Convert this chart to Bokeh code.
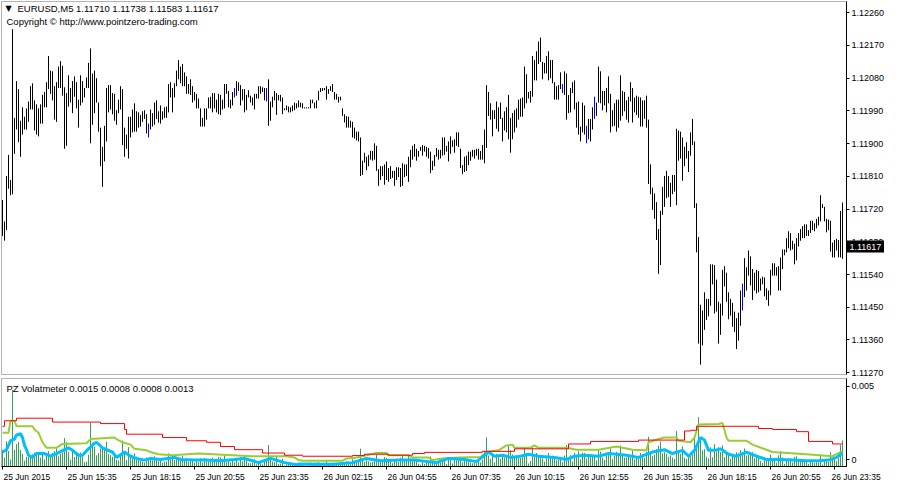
from bokeh.plotting import figure
from bokeh.layouts import column
from bokeh.models import (Range1d, FixedTicker, Label, ColumnDataSource, PrintfTickFormatter,
                          LinearAxis, BoxAnnotation)
from bokeh.embed import file_html
from bokeh.resources import INLINE

# ---------------- data (EURUSD M5, 25 Jun 2015 12:55 .. 26 Jun 23:55) ----------------
high = [
1.11745,1.11686,1.11811,1.11869,1.11800,1.12215,1.11971,1.12072,1.12050,1.11963,
1.12000,1.11974,1.11997,1.12016,1.12058,1.12066,1.12019,1.12008,1.11997,1.12008,
1.12034,1.12042,1.12069,1.12141,1.12101,1.12099,1.12058,1.12069,1.12112,1.12127,
1.12114,1.12055,1.12039,1.12088,1.12053,1.12072,1.12085,1.12069,1.12021,1.12088,
1.12072,1.12053,1.12082,1.12122,1.12162,1.12093,1.12101,1.12080,1.12013,1.11944,
1.11891,1.11949,1.12053,1.12061,1.12061,1.12039,1.12037,1.11992,1.12021,1.12058,
1.12050,1.11944,1.11925,1.11974,1.11974,1.11994,1.12011,1.11989,1.11986,1.11979,
1.11989,1.11992,1.11981,1.11955,1.11994,1.11984,1.12013,1.12019,1.11989,1.12005,
1.11989,1.12000,1.12002,1.12064,1.12069,1.12053,1.12066,1.12101,1.12130,1.12112,
1.12119,1.12096,1.12085,1.12064,1.12077,1.12058,1.12042,1.12037,1.12024,1.11997,
1.11971,1.11997,1.11997,1.12027,1.12029,1.12039,1.12039,1.12021,1.12037,1.12034,
1.12021,1.12064,1.12064,1.12045,1.12021,1.12042,1.12053,1.12072,1.12069,1.12061,
1.12050,1.12050,1.12034,1.12047,1.12032,1.12027,1.12037,1.12037,1.12058,1.12058,
1.12055,1.12053,1.12053,1.12077,1.12016,1.12029,1.12045,1.12039,1.12034,1.12034,
1.12027,1.11997,1.12005,1.12002,1.12000,1.12005,1.12013,1.12011,1.12019,1.12013,
1.12011,1.12000,1.12000,1.12000,1.12021,1.12021,1.12013,1.12019,1.12045,1.12053,
1.12053,1.12053,1.12058,1.12050,1.12058,1.12064,1.12042,1.12037,1.12029,1.12029,
1.11997,1.11981,1.11976,1.11974,1.11963,1.11960,1.11944,1.11933,1.11933,1.11917,
1.11853,1.11875,1.11864,1.11869,1.11880,1.11880,1.11901,1.11894,1.11830,1.11838,
1.11838,1.11843,1.11851,1.11833,1.11838,1.11825,1.11825,1.11835,1.11835,1.11833,
1.11846,1.11843,1.11843,1.11864,1.11883,1.11894,1.11899,1.11886,1.11880,1.11891,
1.11896,1.11894,1.11891,1.11888,1.11878,1.11853,1.11869,1.11888,1.11883,1.11883,
1.11917,1.11917,1.11894,1.11906,1.11920,1.11909,1.11912,1.11931,1.11931,1.11886,
1.11841,1.11864,1.11867,1.11878,1.11878,1.11883,1.11883,1.11886,1.11886,1.11880,
1.11896,1.11939,1.12061,1.12042,1.12011,1.11992,1.11992,1.12016,1.12000,1.12013,
1.11971,1.11989,1.12000,1.12034,1.11971,1.11984,1.11992,1.11997,1.12021,1.12024,
1.12027,1.12112,1.12091,1.12042,1.12045,1.12141,1.12130,1.12154,1.12181,1.12192,
1.12125,1.12122,1.12141,1.12154,1.12130,1.12130,1.12069,1.12058,1.12061,1.12096,
1.12064,1.12099,1.12093,1.12034,1.12053,1.12069,1.12074,1.12013,1.12016,1.11947,
1.12013,1.12005,1.11949,1.11968,1.11968,1.12000,1.12029,1.12013,1.12112,1.12099,
1.12045,1.12045,1.12053,1.12085,1.12037,1.11992,1.12011,1.12021,1.12021,1.12088,
1.12045,1.12042,1.12019,1.12029,1.12069,1.12053,1.12027,1.12032,1.12029,1.12027,
1.12019,1.12019,1.12032,1.11966,1.11843,1.11779,1.11763,1.11739,1.11665,1.11715,
1.11781,1.11811,1.11825,1.11811,1.11792,1.11814,1.11814,1.11941,1.11936,1.11933,
1.11917,1.11891,1.11904,1.11880,1.11931,1.11968,1.11906,1.11736,1.11643,1.11457,
1.11441,1.11491,1.11473,1.11473,1.11568,1.11568,1.11566,1.11526,1.11465,1.11460,
1.11553,1.11563,1.11545,1.11491,1.11473,1.11462,1.11438,1.11420,1.11435,1.11496,
1.11515,1.11585,1.11560,1.11606,1.11590,1.11555,1.11545,1.11553,1.11550,1.11529,
1.11534,1.11532,1.11502,1.11496,1.11553,1.11571,1.11571,1.11560,1.11563,1.11587,
1.11609,1.11609,1.11640,1.11659,1.11654,1.11633,1.11625,1.11640,1.11654,1.11665,
1.11673,1.11678,1.11678,1.11662,1.11688,1.11688,1.11681,1.11693,1.11699,1.11758,
1.11734,1.11726,1.11693,1.11691,1.11688,1.11628,1.11635,1.11638,1.11635,1.11715,
1.11738]

low = [
1.11646,1.11633,1.11662,1.11776,1.11758,1.11761,1.11872,1.11939,1.11904,1.11864,
1.11925,1.11939,1.11939,1.11960,1.11994,1.11994,1.11936,1.11925,1.11920,1.11955,
1.11955,1.12000,1.12000,1.12050,1.12037,1.12019,1.11966,1.11960,1.12053,1.12053,
1.12032,1.11886,1.11894,1.12002,1.12013,1.11984,1.12029,1.11997,1.11944,1.12005,
1.12013,1.12027,1.12053,1.12053,1.11901,1.11952,1.11984,1.12013,1.11933,1.11838,
1.11781,1.11851,1.11906,1.11986,1.11994,1.11981,1.11963,1.11952,1.11984,1.11994,
1.11896,1.11864,1.11886,1.11859,1.11917,1.11931,1.11933,1.11933,1.11944,1.11947,
1.11960,1.11968,1.11928,1.11917,1.11939,1.11947,1.11952,1.11968,1.11958,1.11955,
1.11966,1.11971,1.11971,1.11986,1.12027,1.11986,1.12027,1.12058,1.12077,1.12066,
1.12058,1.12058,1.12037,1.12037,1.12034,1.12013,1.12019,1.11997,1.11997,1.11947,
1.11947,1.11947,1.11966,1.11997,1.11997,1.11986,1.11997,1.11986,1.11981,1.11979,
1.11994,1.11997,1.12037,1.12000,1.11997,1.12005,1.12027,1.12032,1.12045,1.12005,
1.12019,1.11986,1.11992,1.12027,1.12013,1.12005,1.11994,1.12024,1.12024,1.12037,
1.12042,1.12019,1.12016,1.11949,1.11963,1.12000,1.12019,1.11979,1.12019,1.12016,
1.11981,1.11992,1.11992,1.11986,1.11986,1.11989,1.11992,1.11997,1.12000,1.12000,
1.11997,1.11997,1.11997,1.11997,1.11997,1.12011,1.11997,1.11997,1.12019,1.12042,
1.12045,1.12047,1.12021,1.12037,1.12045,1.12042,1.12021,1.12021,1.12013,1.12019,
1.11976,1.11958,1.11944,1.11944,1.11944,1.11917,1.11914,1.11909,1.11906,1.11811,
1.11814,1.11848,1.11827,1.11838,1.11856,1.11853,1.11856,1.11825,1.11784,1.11800,
1.11811,1.11787,1.11800,1.11795,1.11803,1.11806,1.11784,1.11800,1.11808,1.11781,
1.11784,1.11808,1.11811,1.11795,1.11835,1.11856,1.11864,1.11853,1.11864,1.11880,
1.11867,1.11878,1.11864,1.11859,1.11819,1.11827,1.11838,1.11864,1.11856,1.11859,
1.11867,1.11869,1.11878,1.11851,1.11872,1.11891,1.11875,1.11894,1.11891,1.11833,
1.11816,1.11822,1.11825,1.11841,1.11853,1.11864,1.11859,1.11867,1.11856,1.11856,
1.11856,1.11846,1.11888,1.11976,1.11966,1.11920,1.11968,1.11941,1.11933,1.11968,
1.11906,1.11936,1.11931,1.11912,1.11875,1.11912,1.11931,1.11944,1.11966,1.11974,
1.11974,1.11997,1.12011,1.12024,1.12013,1.12029,1.12074,1.12074,1.12119,1.12125,
1.12077,1.12093,1.12093,1.12074,1.12080,1.12066,1.12021,1.12021,1.12021,1.12050,
1.12039,1.12034,1.11966,1.11984,1.11986,1.12039,1.11994,1.11944,1.11925,1.11906,
1.11931,1.11925,1.11901,1.11912,1.11906,1.11939,1.11968,1.11976,1.12013,1.12011,
1.11992,1.12005,1.11986,1.12011,1.11931,1.11947,1.11949,1.11933,1.11944,1.11963,
1.11976,1.11989,1.11966,1.11958,1.12016,1.11958,1.11986,1.11979,1.11971,1.11947,
1.11947,1.11968,1.11944,1.11789,1.11761,1.11718,1.11693,1.11635,1.11542,1.11566,
1.11704,1.11726,1.11750,1.11753,1.11726,1.11761,1.11768,1.11731,1.11853,1.11859,
1.11798,1.11838,1.11859,1.11822,1.11867,1.11896,1.11723,1.11601,1.11350,1.11292,
1.11345,1.11388,1.11415,1.11425,1.11454,1.11513,1.11433,1.11438,1.11350,1.11374,
1.11427,1.11507,1.11465,1.11417,1.11427,1.11396,1.11382,1.11335,1.11358,1.11399,
1.11441,1.11478,1.11496,1.11537,1.11510,1.11470,1.11496,1.11488,1.11491,1.11496,
1.11513,1.11480,1.11470,1.11454,1.11483,1.11537,1.11537,1.11537,1.11496,1.11496,
1.11555,1.11593,1.11601,1.11612,1.11606,1.11609,1.11568,1.11579,1.11617,1.11633,
1.11640,1.11640,1.11646,1.11646,1.11654,1.11662,1.11659,1.11667,1.11675,1.11686,
1.11723,1.11686,1.11656,1.11662,1.11603,1.11587,1.11587,1.11606,1.11587,1.11587,
1.11583]

blue_bars = [73, 116, 132, 280, 292, 296, 370]

price_ticks = [1.11270, 1.11360, 1.11450, 1.11540, 1.11630, 1.11720,
               1.11810, 1.11900, 1.11990, 1.12080, 1.12170, 1.12260]

time_tick_bars = [0, 32, 64, 96, 128, 160, 192, 224, 256, 288, 320, 352, 384, 416]
time_labels = ["25 Jun 2015", "25 Jun 15:35", "25 Jun 18:15", "25 Jun 20:55",
               "25 Jun 23:35", "26 Jun 02:15", "26 Jun 04:55", "26 Jun 07:35",
               "26 Jun 10:15", "26 Jun 12:55", "26 Jun 15:35", "26 Jun 18:15",
               "26 Jun 20:55", "26 Jun 23:35"]

# indicator lines (values in thousandths), sampled at bar index
blue_x = [0,2,4,6,7,9,10,11,12,13,15,17,21,24,27,31,33,35,38,40,43,46,47,50,53,55,57,60,61,64,
          67,71,74,79,86,89,96,102,109,116,121,128,134,141,147,148,165,175,182,189,198,206,217,
          223,231,237,240,243,246,250,254,259,263,268,276,282,286,291,298,303,312,318,325,331,
          335,340,343,346,349,351,353,356,359,363,367,372,377,382,388,395,402,408,413,417,420]
blue_v = [0.86,1.00,1.53,1.63,1.88,1.95,1.72,1.25,1.00,0.67,0.54,0.77,0.77,0.61,0.77,1.00,1.11,
          0.96,0.67,0.67,1.05,1.38,1.44,1.11,0.96,0.86,0.54,0.77,0.86,0.61,0.48,0.38,0.48,0.42,
          0.54,0.42,0.38,0.38,0.34,0.42,0.48,0.23,0.48,0.23,0.10,0.15,0.13,0.23,0.48,0.34,0.38,
          0.38,0.23,0.48,0.42,0.29,0.57,0.86,0.61,0.67,0.54,0.61,0.73,0.61,0.54,0.42,0.61,0.67,
          0.61,0.77,0.67,0.54,0.86,1.00,0.77,0.96,0.61,0.96,1.72,1.57,0.96,0.96,1.05,0.73,0.61,
          0.86,0.61,0.42,0.42,0.38,0.34,0.34,0.38,0.54,0.80]

green_x = [0,3,4,6,7,15,16,18,20,22,27,30,42,44,56,57,60,64,66,72,74,78,85,98,115,125,142,146,
           148,150,170,172,177,187,192,193,203,205,213,215,220,228,239,242,248,252,255,256,264,
           266,268,282,287,294,298,307,315,322,323,328,331,337,338,344,346,348,358,360,362,363,
           372,375,385,402,415,418,420]
green_v = [2.01,2.01,2.72,2.72,2.39,2.39,2.20,2.01,1.44,1.11,1.11,1.34,1.38,1.63,1.72,1.63,1.44,
           1.30,1.05,0.96,0.86,0.73,0.67,0.77,0.67,0.61,0.61,0.54,0.38,0.34,0.34,0.48,0.54,0.80,
           0.80,0.67,0.67,0.54,0.54,0.38,0.48,0.54,0.57,0.86,0.96,1.25,1.30,1.11,1.11,1.25,1.11,
           1.11,1.00,1.00,1.00,1.19,1.00,0.96,1.44,1.63,1.72,1.72,1.53,1.44,1.72,2.49,2.53,2.59,
           1.72,1.53,1.53,1.30,0.86,0.73,0.61,0.80,0.86]

red_x = [0,1,7,25,49,61,62,80,92,102,109,116,130,141,150,175,181,193,205,211,240,256,283,294,
         318,341,344,347,378,385,397,403,415,420]
red_v = [2.39,2.72,2.87,2.64,2.55,2.20,1.92,1.72,1.53,1.44,1.19,1.00,0.80,0.67,0.61,0.65,0.73,
         0.67,0.77,0.84,0.90,1.05,1.34,1.49,1.57,2.11,2.15,2.39,2.26,2.20,2.07,1.49,1.34,1.34]

ind_tick_values = [0.0004, 0.00477]
ind_tick_labels = ["0", "0.005"]

header_text = "EURUSD,M5  1.11710 1.11738 1.11583 1.11617"
copyright_text = "Copyright \u00a9 http://www.pointzero-trading.com"
indicator_text = "PZ Volatmeter 0.0015 0.0008 0.0008 0.0013"
last_close = 1.11617

# ---------------- layout constants ----------------
FONT = "Liberation Sans"
W = 884
X0, X1 = -1.0, 441.0          # 2 px per bar over the full 884 px canvas
EDGE_L, EDGE_R = -0.5, 422.0  # panel borders (bar units); price scale sits at EDGE_R
PTOP, PBOT = 1.12291, 1.11265  # price panel border values
PX = (PTOP - PBOT) / 373.0
HP = 377
HQ = 484 - HP
ITOP = 0.00523
IX = ITOP / 88.0


def style(fig):
    fig.background_fill_color = "white"
    fig.border_fill_color = "white"
    fig.grid.visible = False
    fig.outline_line_color = None
    fig.min_border_left = 0
    fig.min_border_right = 0
    fig.min_border_top = 0
    fig.min_border_bottom = 0


n = len(high)
idx = list(range(n))
colors = ["#0000FF" if i in blue_bars else "#000000" for i in idx]
bar_range = [h - l for h, l in zip(high, low)]

xr = Range1d(X0, X1)

# ---------------- price panel ----------------
p = figure(frame_width=W, frame_height=HP, x_range=xr,
           y_range=Range1d(PBOT - 3 * PX, PTOP + 1 * PX),
           output_backend="svg", toolbar_location=None,
           x_axis_location=None, y_axis_location=None)
style(p)

src = ColumnDataSource(dict(x=idx, high=high, low=low, color=colors))
p.segment(x0="x", y0="low", x1="x", y1="high", line_color="color", line_width=1, source=src)

p.add_layout(BoxAnnotation(left=EDGE_L, right=EDGE_R, bottom=PBOT, top=PTOP,
                           fill_color=None, line_color="black", line_width=1))

ya = LinearAxis(fixed_location=EDGE_R, bounds=(PBOT, PTOP),
                ticker=FixedTicker(ticks=price_ticks),
                formatter=PrintfTickFormatter(format="%.5f"))
ya.major_tick_out = 3
ya.major_tick_in = 0
ya.minor_tick_out = 0
ya.minor_tick_in = 0
ya.major_label_standoff = 2
ya.major_label_text_font = FONT
ya.major_label_text_font_size = "9px"
ya.major_label_text_color = "black"
ya.axis_line_color = "black"
ya.major_tick_line_color = "black"
p.add_layout(ya, "right")

box_axis = LinearAxis(fixed_location=EDGE_R, ticker=FixedTicker(ticks=[last_close]),
                      major_label_overrides={last_close: "1.11617"})
box_axis.axis_line_color = None
box_axis.major_tick_out = 38
box_axis.major_tick_in = 0
box_axis.major_tick_line_width = 12
box_axis.major_tick_line_color = "black"
box_axis.minor_tick_out = 0
box_axis.minor_tick_in = 0
box_axis.minor_tick_line_color = None
box_axis.major_label_standoff = -35
box_axis.major_label_text_font = FONT
box_axis.major_label_text_font_size = "9px"
box_axis.major_label_text_color = "white"
p.add_layout(box_axis, "right")

p.add_layout(Label(x=1.5, y=PTOP + PX - 7.5 * PX, text="\u25bc", text_font="DejaVu Sans",
                   text_font_size="8px", text_baseline="middle", text_align="left",
                   text_color="black"))
p.add_layout(Label(x=7.5, y=PTOP + PX - 7.5 * PX, text=header_text, text_font=FONT,
                   text_font_size="9.5px", text_baseline="middle", text_align="left",
                   text_color="black"))
p.add_layout(Label(x=2.0, y=PTOP + PX - 21 * PX, text=copyright_text, text_font=FONT,
                   text_font_size="9.5px", text_baseline="middle", text_align="left",
                   text_color="black"))

# ---------------- indicator panel ----------------
q = figure(frame_width=W, frame_height=HQ, x_range=xr,
           y_range=Range1d(-(HQ - 89) * IX, ITOP + IX),
           output_backend="svg", toolbar_location=None,
           x_axis_location=None, y_axis_location=None)
style(q)

q.segment(x0=idx, y0=[0] * n, x1=idx, y1=bar_range, line_color="#3C9C5C", line_width=1)
q.line(green_x, [v * 0.001 for v in green_v], line_color="#9ACD32", line_width=2)
q.line(blue_x, [v * 0.001 for v in blue_v], line_color="#00BFFF", line_width=3)
q.step(red_x, [v * 0.001 for v in red_v], mode="after", line_color="#FF0000", line_width=1)

q.add_layout(BoxAnnotation(left=EDGE_L, right=EDGE_R, bottom=0, top=ITOP,
                           fill_color=None, line_color="black", line_width=1))

qy = LinearAxis(fixed_location=EDGE_R, bounds=(0, ITOP),
                ticker=FixedTicker(ticks=ind_tick_values),
                major_label_overrides=dict(zip(ind_tick_values, ind_tick_labels)))
qy.major_tick_out = 3
qy.major_tick_in = 0
qy.minor_tick_out = 0
qy.minor_tick_in = 0
qy.major_label_standoff = 2
qy.major_label_text_font = FONT
qy.major_label_text_font_size = "9px"
qy.major_label_text_color = "black"
qy.axis_line_color = "black"
q.add_layout(qy, "right")

# label anchors: just right of each time tick (last one nudged to stay on the canvas)
label_pos = [t + 0.5 for t in time_tick_bars[:-1]] + [time_tick_bars[-1] - 1.5]
qx = LinearAxis(fixed_location=0, bounds=(EDGE_L, EDGE_R),
                ticker=FixedTicker(ticks=label_pos, minor_ticks=time_tick_bars),
                major_label_overrides=dict(zip(label_pos, time_labels)))
qx.major_label_orientation = -1e-6
qx.major_tick_out = 0
qx.major_tick_in = 0
qx.major_tick_line_color = None
qx.minor_tick_out = 3
qx.minor_tick_in = 0
qx.minor_tick_line_color = "black"
qx.axis_line_color = "black"
qx.major_label_standoff = 7
qx.major_label_text_font = FONT
qx.major_label_text_font_size = "8.5px"
qx.major_label_text_color = "black"
q.add_layout(qx, "below")

q.add_layout(Label(x=2.0, y=ITOP + IX - 11 * IX, text=indicator_text, text_font=FONT,
                   text_font_size="9.5px", text_baseline="middle", text_align="left",
                   text_color="black"))

layout = column(p, q, spacing=0)
open("out.html", "w").write(file_html(layout, INLINE))
